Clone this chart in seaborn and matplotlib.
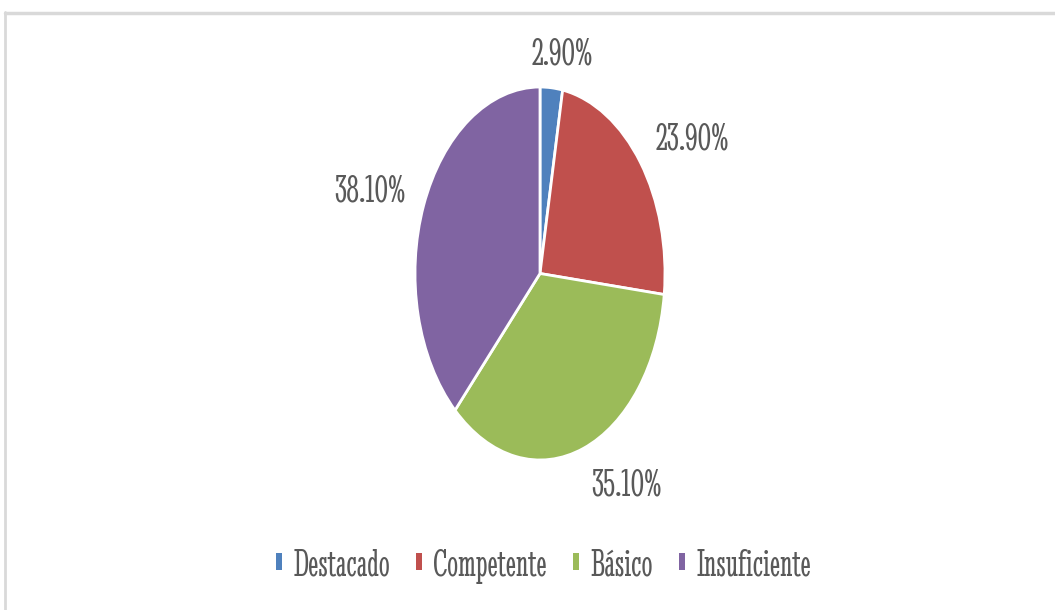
import matplotlib
matplotlib.use("Agg")
import matplotlib.pyplot as plt
import seaborn as sns
from matplotlib.patches import Rectangle
from matplotlib.lines import Line2D

# ---- data ----
categories = ["Destacado", "Competente", "Básico", "Insuficiente"]
values = [2.9, 23.9, 35.1, 38.1]
pct_labels = ["2.90%", "23.90%", "35.10%", "38.10%"]
colors = ["#4F81BD", "#C0504D", "#9BBB59", "#8064A2"]

# label placement (layout, in pie data units)
label_pos = [(0.176, 1.17), (1.216, 0.714), (0.696, -1.14), (-1.36, 0.437)]

sns.set_theme(style="white")
FONT = ["Stint Ultra Condensed", "DejaVu Serif"]
plt.rcParams["font.family"] = FONT
TEXT_COLOR = "#595959"

W, H = 1055, 610
fig = plt.figure(figsize=(W / 100, H / 100), dpi=100)
fig.patch.set_facecolor("white")

# chart border (light gray top + left edges)
fig.add_artist(Line2D([4.5 / W, 4.5 / W], [0, 1 - 12 / H], transform=fig.transFigure,
                      color="#D9D9D9", lw=2))
fig.add_artist(Line2D([4.5 / W, 1], [1 - 13 / H, 1 - 13 / H], transform=fig.transFigure,
                      color="#D9D9D9", lw=2.5))

# pie axes: center (540, 273.5) px, rx=125, ry=186.5
cx, cy, rx, ry = 540, 273.5, 125, 186.5
ax = fig.add_axes([(cx - rx) / W, (H - cy - ry) / H, 2 * rx / W, 2 * ry / H])
palette = sns.color_palette(colors)
wedges, _ = ax.pie(values, colors=palette, startangle=90, counterclock=False,
                   wedgeprops=dict(edgecolor="white", linewidth=2))
ax.set_aspect("auto")
ax.set_xlim(-1, 1)
ax.set_ylim(-1, 1)
ax.axis("off")

for txt, (x, y) in zip(pct_labels, label_pos):
    ax.text(x, y, txt, ha="center", va="center", fontsize=29, color=TEXT_COLOR,
            clip_on=False)

handles = [Rectangle((0, 0), 1, 1, facecolor=c, edgecolor="none") for c in palette]
leg = fig.legend(handles, categories, loc="center", bbox_to_anchor=(543.5 / W, 1 - 566 / H),
                 ncol=4, frameon=False, fontsize=28, handlelength=0.155, handleheight=0.31,
                 handletextpad=0.28, columnspacing=0.68, borderaxespad=0, borderpad=0)
for t in leg.get_texts():
    t.set_color(TEXT_COLOR)

fig.savefig("out.png", dpi=100, facecolor="white")
